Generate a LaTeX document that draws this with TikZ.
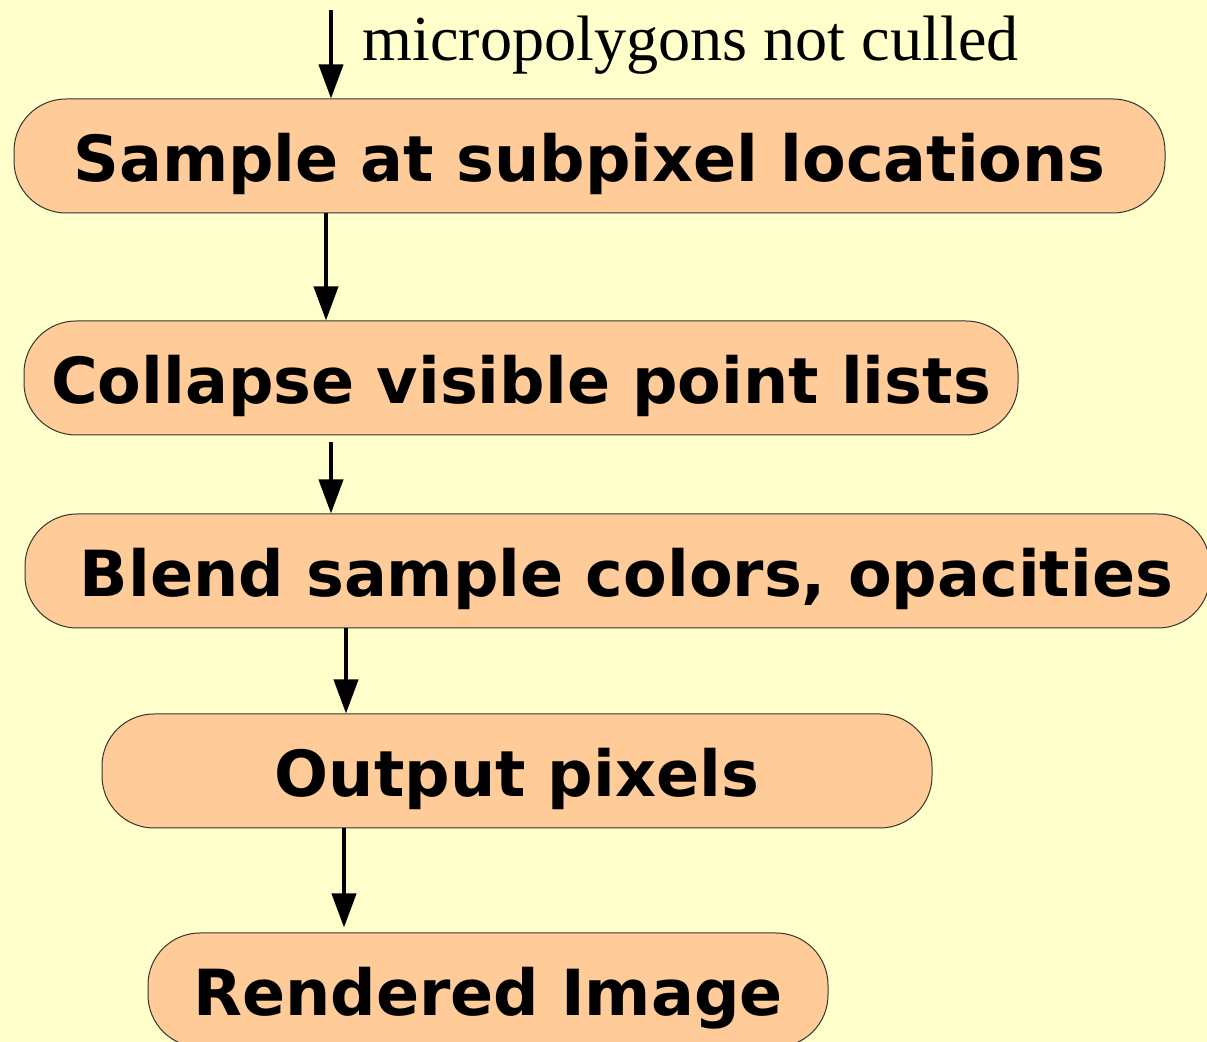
\documentclass[tikz,border=0pt]{standalone}
\usepackage{fontspec}
\setmainfont{Liberation Serif}
\newfontfamily\stagefont{DejaVu Sans}
\usepackage{xcolor}
\usetikzlibrary{arrows.meta}

\definecolor{paper}{HTML}{FFFFCC}
\definecolor{stagefill}{HTML}{FFCC99}

\tikzset{
	stage/.style={draw=black!80, line width=0.5pt, fill=stagefill, rounded corners=26pt,
		minimum height=57pt, inner sep=0pt, text height=26pt, text depth=0pt,
		font=\stagefont\bfseries\fontsize{31.8}{36}\selectfont},
	flow/.style={-{Triangle[length=17pt,width=12pt]}, line width=2pt}
}

\begin{document}
\begin{tikzpicture}[x=0.5pt, y=-0.5pt]
					\fill[paper] (0,0) rectangle (1207,1042);
					\useasboundingbox (0,0) rectangle (1207,1042);
					% stages
					\node[stage, minimum width=575.5pt] (sample) at (589.5,156) {Sample at subpixel locations};
					\node[stage, minimum width=497pt] (collapse) at (521,378) {Collapse visible point lists};
					\node[stage, minimum width=592.5pt] (blend) at (617.5,571) {\hspace{9pt}Blend sample colors, opacities};
					\node[stage, minimum width=415pt] (output) at (517,771) {Output pixels};
					\node[stage, minimum width=340pt] (image) at (488,990) {Rendered Image};
					% arrows
					\coordinate (in) at (331,10);
					\coordinate (x2) at (326,0);
					\coordinate (x3) at (331,0);
					\coordinate (x4) at (346,0);
					\coordinate (x5) at (344,0);
					\draw[flow] (in) -- (sample.north -| in);
					\node[anchor=base west, inner sep=0pt, font=\fontsize{32.1}{38}\selectfont] (label) at (362,61) {micropolygons not culled};
					\draw[flow] (sample.south -| x2) -- (collapse.north -| x2);
					\draw[flow, shorten <=3.5pt] (collapse.south -| x3) -- (blend.north -| x3);
					\draw[flow] (blend.south -| x4) -- (output.north -| x4);
					\draw[flow, shorten >=2.5pt] (output.south -| x5) -- (image.north -| x5);
\end{tikzpicture}
\end{document}
